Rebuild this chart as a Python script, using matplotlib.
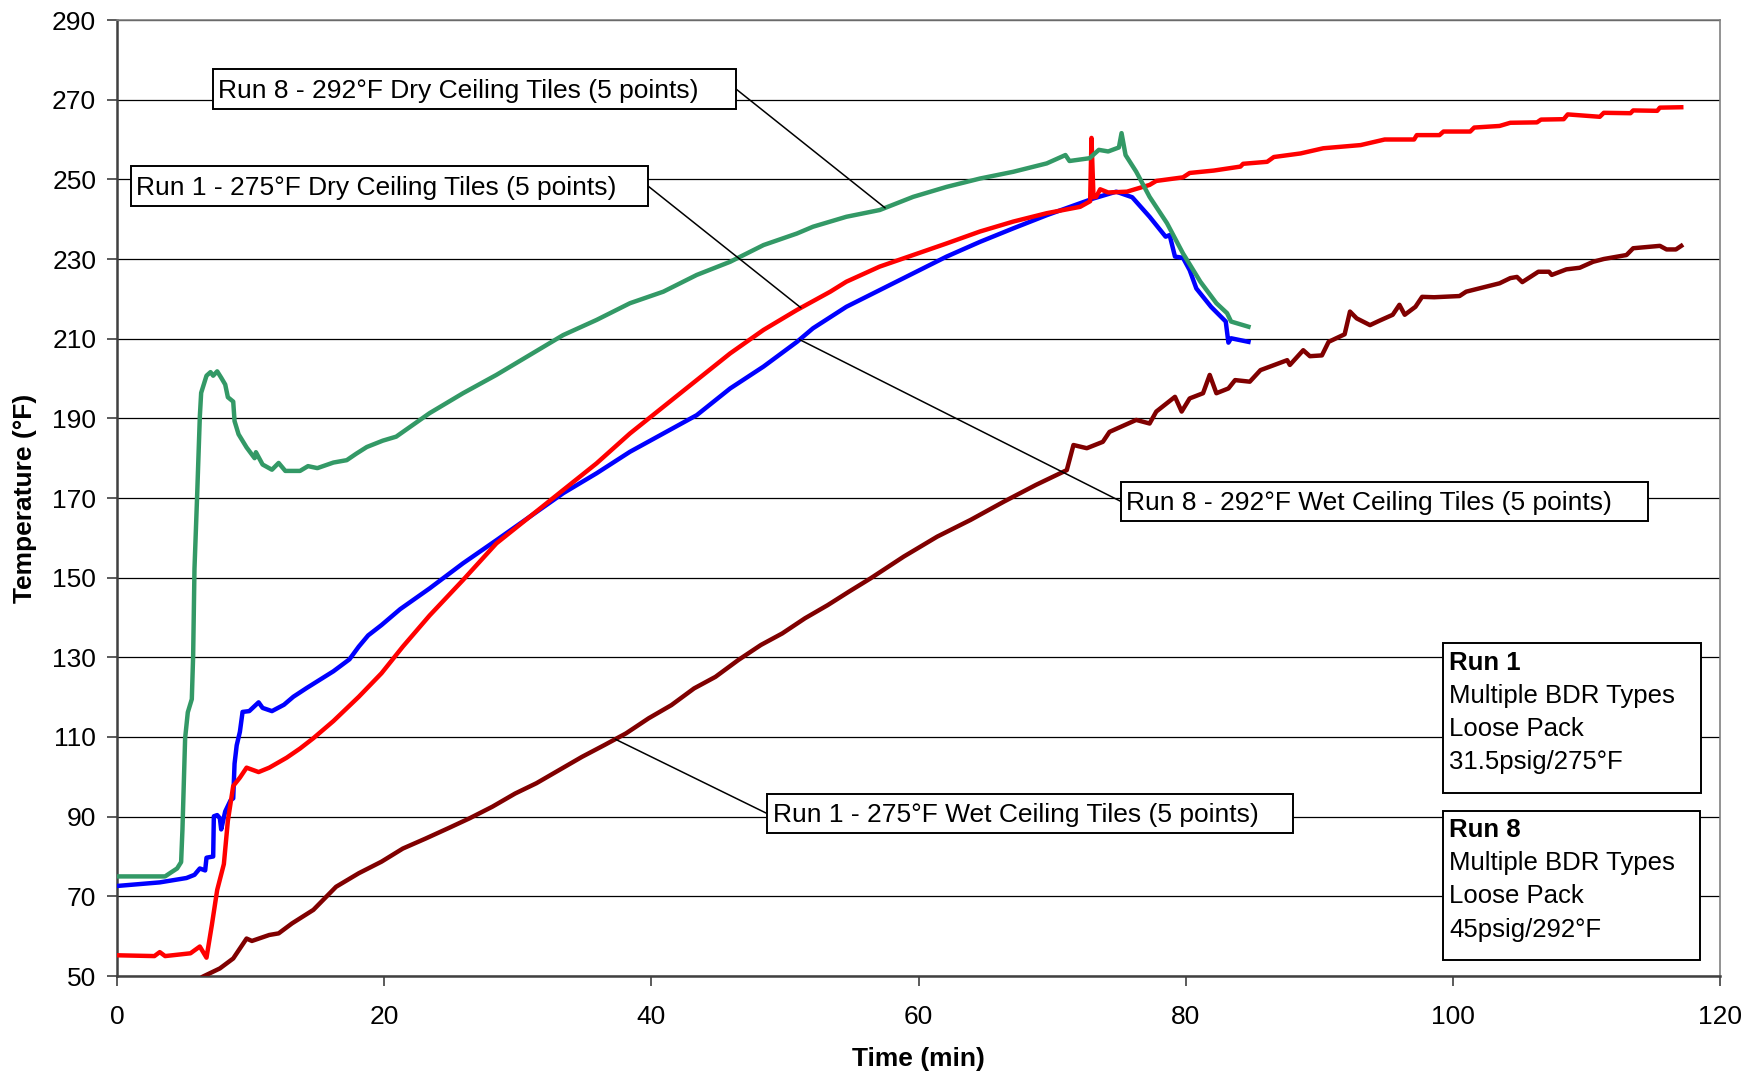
import matplotlib
matplotlib.use("Agg")
import matplotlib.pyplot as plt
import numpy as np
from matplotlib.patches import Rectangle, ConnectionPatch

plt.rcParams['font.family'] = ['Liberation Sans', 'DejaVu Sans']

# ---------------- data ----------------
run8_dry_t = [0, 3.6, 4.0, 4.5, 4.8, 4.9, 5.1, 5.3, 5.6, 5.7, 5.8, 6.0, 6.2, 6.3, 6.7, 7.0, 7.2, 7.5, 7.8, 8.1,
              8.3, 8.7, 8.8, 9.1, 9.7, 10.3, 10.4, 10.9, 11.6, 12.1, 12.6, 13.7, 14.3, 15.0, 16.2, 17.2, 17.9,
              18.7, 19.9, 20.9, 23.4, 25.9, 28.4, 30.9, 33.4, 35.9, 38.4, 40.9, 43.4, 45.9, 48.4, 50.9, 52.1,
              54.6, 57.1, 59.6, 62.1, 64.6, 67.1, 69.6, 71.0, 71.3, 72.8, 73.5, 74.2, 75.0, 75.2, 75.5, 76.3,
              77.3, 78.6, 79.8, 81.1, 82.3, 83.1, 83.4, 84.7]
run8_dry_T = [75, 75, 75.9, 77, 78.6, 86.8, 109.7, 116.2, 119.5, 130.4, 152.2, 170.7, 190.4, 196.4, 200.7, 201.6,
              200.7, 201.8, 200.2, 198.5, 195.3, 194.2, 189.3, 186, 182.7, 180, 181.5, 178.4, 177.1, 178.8, 176.8,
              176.8, 178, 177.5, 178.9, 179.5, 181.1, 182.8, 184.4, 185.4, 191.3, 196.3, 200.9, 205.9, 210.9,
              214.7, 218.9, 221.8, 226, 229.3, 233.5, 236.4, 238.1, 240.6, 242.3, 245.6, 248.1, 250.2, 251.9,
              254, 256.1, 254.6, 255.3, 257.4, 257, 258, 261.6, 256.1, 251.9, 245.6, 239, 231.4, 224.3, 218.9,
              216.4, 214.3, 213]

run8_wet_t = [0, 3.2, 5.2, 5.8, 6.2, 6.6, 6.7, 7.2, 7.25, 7.5, 7.7, 7.8, 8.1, 8.5, 8.7, 8.8, 8.96, 9.2, 9.4, 9.9,
              10.6, 10.9, 11.6, 12.5, 13.2, 14.2, 16.2, 17.4, 18.1, 18.8, 19.8, 21.2, 23.4, 25.9, 28.4, 30.9,
              33.4, 35.9, 38.4, 40.9, 43.4, 45.9, 48.4, 50.9, 52.1, 54.6, 57.1, 59.6, 62.1, 64.6, 67.1, 69.6,
              72.1, 73.1, 74.8, 76.0, 77.3, 78.5, 78.8, 79.2, 79.8, 80.3, 80.8, 81.9, 83.0, 83.2, 83.4, 84.7]
run8_wet_T = [72.6, 73.5, 74.6, 75.4, 77, 76.5, 79.7, 80, 90.1, 90.4, 89.6, 86.8, 91.3, 94.1, 94.6, 103.3, 107.9,
              111.3, 116.3, 116.5, 118.7, 117.3, 116.5, 118.1, 120.1, 122.3, 126.5, 129.5, 132.7, 135.5, 138.1,
              142.1, 147.3, 153.6, 159.4, 165.3, 171.2, 176.2, 181.6, 186.2, 190.8, 197.5, 203, 209.2, 212.6,
              218, 222.2, 226.4, 230.6, 234.3, 237.7, 241, 244, 245.2, 246.9, 245.5, 240.6, 235.6, 236, 230.6,
              230.3, 227.2, 222.6, 218, 214.3, 209, 210.1, 209.2]

run1_dry_t = [0, 2.8, 3.2, 3.6, 5.5, 6.2, 6.7, 7.1, 7.5, 8.0, 8.3, 8.7, 9.2, 9.7, 10.6, 11.4, 12.7, 13.7, 14.7,
              16.2, 18.1, 19.8, 21.4, 23.4, 25.9, 28.4, 30.9, 33.4, 35.9, 38.4, 40.9, 43.4, 45.9, 48.4, 50.9,
              53.4, 54.6, 57.1, 59.6, 62.1, 64.6, 67.1, 69.6, 72.1, 72.85, 72.95, 73.1, 73.3, 73.6, 74.2, 75.6,
              77.3, 77.8, 79.8, 80.3, 82.1, 84.1, 84.3, 86.1, 86.6, 88.6, 90.3, 93.1, 94.9, 97.1, 97.3, 99.0,
              99.3, 101.3, 101.6, 103.5, 104.3, 106.3, 106.6, 108.3, 108.6, 111.0, 111.3, 113.3, 113.5, 115.3,
              115.5, 117.1]
run1_dry_T = [55.2, 55, 56, 55, 55.7, 57.4, 54.6, 62.8, 71.6, 78.1, 89, 97.7, 99.8, 102.3, 101.2, 102.3, 104.8,
              107.1, 109.7, 114, 120.1, 126, 132.7, 140.5, 149.4, 158.6, 165.3, 172, 178.7, 186.2, 192.9, 199.6,
              206.3, 212.2, 217.2, 221.8, 224.3, 228.1, 231, 233.9, 236.9, 239.4, 241.5, 243.1, 244.5, 260.4,
              245.5, 245.6, 247.5, 246.7, 246.9, 248.6, 249.6, 250.5, 251.6, 252.2, 253.2, 253.9, 254.4, 255.6,
              256.5, 257.8, 258.6, 260, 260, 261.1, 261.1, 262, 262, 263, 263.4, 264.2, 264.3, 265, 265.1,
              266.3, 265.7, 266.7, 266.6, 267.3, 267.2, 268, 268.1]

run1_wet_t = [6.0, 6.4, 7.7, 8.7, 9.7, 10.1, 11.4, 12.1, 13.1, 14.7, 16.4, 18.1, 19.8, 21.4, 23.1, 24.8, 26.4,
              28.1, 29.8, 31.4, 33.1, 34.8, 36.5, 38.1, 39.8, 41.5, 43.2, 44.8, 46.5, 48.2, 49.8, 51.5, 53.2,
              54.8, 56.4, 58.9, 61.4, 63.9, 66.4, 68.8, 71.1, 71.6, 72.6, 73.8, 74.3, 76.3, 77.3, 77.8, 79.2,
              79.7, 80.3, 81.3, 81.8, 82.3, 83.2, 83.7, 84.8, 85.6, 87.6, 87.8, 88.8, 89.3, 90.2, 90.7, 91.9,
              92.3, 92.8, 93.8, 94.5, 95.5, 96.0, 96.4, 97.2, 97.7, 98.6, 100.5, 101.0, 103.5, 104.3, 104.8,
              105.2, 106.4, 107.2, 107.4, 108.5, 109.5, 110.5, 111.3, 113.0, 113.5, 115.5, 116.0, 116.7, 117.1]
run1_wet_T = [48.5, 49.8, 51.9, 54.4, 59.4, 58.8, 60.3, 60.7, 63.2, 66.6, 72.4, 75.8, 78.7, 82, 84.5, 87.1, 89.6,
              92.5, 95.8, 98.4, 101.7, 105, 108, 110.9, 114.7, 118, 122.2, 125.1, 129.3, 133.1, 136, 139.8,
              143.1, 146.5, 149.8, 155.3, 160.3, 164.5, 169.1, 173.3, 177, 183.3, 182.5, 184.1, 186.6, 189.6,
              188.7, 191.7, 195.4, 191.7, 195, 196.3, 200.9, 196.3, 197.5, 199.6, 199.2, 202.1, 204.6, 203.4,
              207.1, 205.6, 205.8, 209.2, 211.1, 216.8, 215.1, 213.4, 214.5, 216, 218.5, 216, 218, 220.5,
              220.4, 220.7, 221.8, 223.9, 225.2, 225.5, 224.2, 226.8, 226.8, 226, 227.4, 227.8, 229.3, 230,
              231, 232.7, 233.3, 232.4, 232.4, 233.3]

x_ticks = [0, 20, 40, 60, 80, 100, 120]
y_ticks = [50, 70, 90, 110, 130, 150, 170, 190, 210, 230, 250, 270, 290]

labels = ["Run 8 - 292°F Dry Ceiling Tiles (5 points)",
          "Run 1 - 275°F Dry Ceiling Tiles (5 points)",
          "Run 8 - 292°F Wet Ceiling Tiles (5 points)",
          "Run 1 - 275°F Wet Ceiling Tiles (5 points)"]
info1 = ["Run 1", "Multiple BDR Types", "Loose Pack", "31.5psig/275°F"]
info8 = ["Run 8", "Multiple BDR Types", "Loose Pack", "45psig/292°F"]

# ---------------- figure ----------------
W, H = 1763, 1076
fig = plt.figure(figsize=(W / 100, H / 100), dpi=100)
L, R, T, B = 117, 1720, 20, 976
ax = fig.add_axes([L / W, 1 - B / H, (R - L) / W, (B - T) / H])


def fp(x, y):
    return (x / W, 1 - y / H)


lw = 3.2
ax.plot(run1_wet_t, run1_wet_T, color='#800000', lw=lw, solid_joinstyle='round', zorder=3)
ax.plot(run8_wet_t, run8_wet_T, color='#0000FF', lw=lw, solid_joinstyle='round', zorder=3)
ax.plot(run1_dry_t, run1_dry_T, color='#FF0000', lw=lw, solid_joinstyle='round', zorder=3)
ax.plot(run8_dry_t, run8_dry_T, color='#339966', lw=lw, solid_joinstyle='round', zorder=3)

ax.set_xlim(0, 120)
ax.set_ylim(50, 290)
ax.set_xticks(x_ticks)
ax.set_yticks(y_ticks)
ax.yaxis.grid(True, color='black', lw=0.9, zorder=1)
ax.set_axisbelow(True)
ax.tick_params(axis='both', direction='out', labelsize=19, color='#404040', width=1.2)
ax.tick_params(axis='y', length=7, pad=8)
ax.tick_params(axis='x', length=7, pad=14)
for s in ['left', 'bottom']:
    ax.spines[s].set_color('#404040')
    ax.spines[s].set_linewidth(1.8)
for s in ['top', 'right']:
    ax.spines[s].set_color('#808080')
    ax.spines[s].set_linewidth(1.2)

fig.text(*fp((L + R) / 2, 1059), "Time (min)", ha='center', va='center', fontsize=19, fontweight='bold')
fig.text(*fp(25, (T + B) / 2), "Temperature (°F)", ha='center', va='center', rotation=90,
         fontsize=19, fontweight='bold')

# ---------------- data labels with leader lines ----------------
label_specs = [
    (212.5, 69, 736, 109, 218, 98, (run8_dry_t, run8_dry_T), 57.5, 'right'),
    (131, 166, 648, 206, 136.5, 195, (run1_dry_t, run1_dry_T), 51.2, 'right'),
    (1121, 482, 1648, 521, 1126.5, 510, (run8_wet_t, run8_wet_T), 51.1, 'left'),
    (767, 794, 1293, 833, 773, 822, (run1_wet_t, run1_wet_T), 37.3, 'left'),
]
for text, (x0, y0, x1, y1, tx, ty, (st, sT), tt, side) in zip(labels, label_specs):
    yv = float(np.interp(tt, st, sT))
    ex = x1 if side == 'right' else x0
    ey = (y0 + y1) / 2
    con = ConnectionPatch(xyA=(tt, yv), coordsA=ax.transData, xyB=fp(ex, ey), coordsB=fig.transFigure,
                          color='black', lw=1.1, zorder=4)
    fig.add_artist(con)
    rect = Rectangle(fp(x0, y1), (x1 - x0) / W, (y1 - y0) / H, transform=fig.transFigure,
                     fc='white', ec='black', lw=1.4, zorder=5)
    fig.add_artist(rect)
    fig.text(*fp(tx, ty), text, ha='left', va='baseline', fontsize=19, zorder=6)

# ---------------- info boxes ----------------
for lines, (x0, y0, x1, y1, base) in zip([info1, info8],
                                         [(1443, 642.7, 1701, 793.3, 669.5),
                                          (1443, 811, 1700, 960, 837)]):
    rect = Rectangle(fp(x0, y1), (x1 - x0) / W, (y1 - y0) / H, transform=fig.transFigure,
                     fc='white', ec='black', lw=1.4, zorder=5)
    fig.add_artist(rect)
    for i, ln in enumerate(lines):
        fig.text(*fp(1449, base + i * 33.2), ln, ha='left', va='baseline', fontsize=18.5,
                 fontweight='bold' if i == 0 else 'normal', zorder=6)

fig.savefig("out.png", dpi=100, facecolor='white')
